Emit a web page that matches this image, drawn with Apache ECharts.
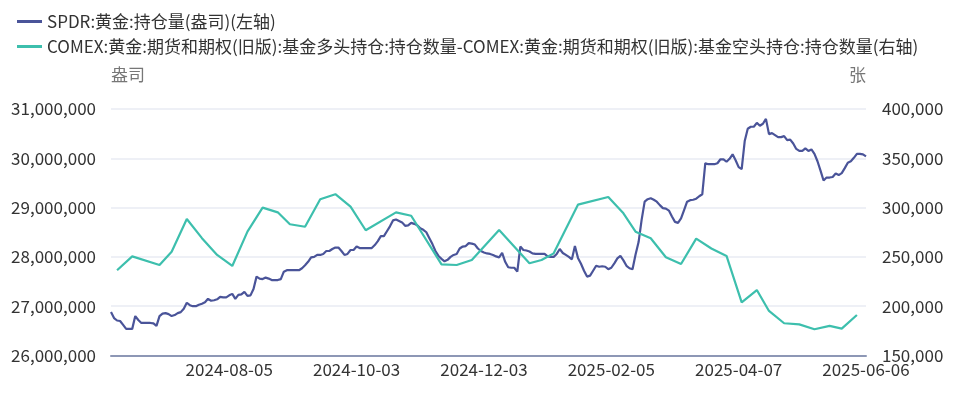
<!DOCTYPE html>
<html>
<head>
<meta charset="utf-8">
<script src="https://cdn.jsdelivr.net/npm/echarts@6/dist/echarts.min.js"></script>
<style>
  html, body { margin: 0; padding: 0; background: #fff; }
  #chart { width: 966px; height: 397px; }
</style>
</head>
<body>
<div id="chart"></div>
<script>
// 交易日 (按月列出日期)
const tradingDays = [
  ['2024-06', [7, 10, 11, 12, 13, 14, 17, 18, 20, 21, 24, 25, 26, 27, 28]],
  ['2024-07', [1, 2, 3, 5, 8, 9, 10, 11, 12, 15, 16, 17, 18, 19, 22, 23, 24, 25, 26, 29, 30, 31]],
  ['2024-08', [1, 2, 5, 6, 7, 8, 9, 12, 13, 14, 15, 16, 19, 20, 21, 22, 23, 26, 27, 28, 29, 30]],
  ['2024-09', [3, 4, 5, 6, 9, 10, 11, 12, 13, 16, 17, 18, 19, 20, 23, 24, 25, 26, 27, 30]],
  ['2024-10', [1, 2, 3, 4, 7, 8, 9, 10, 11, 14, 15, 16, 17, 18, 21, 22, 23, 24, 25, 28, 29, 30, 31]],
  ['2024-11', [1, 4, 5, 6, 7, 8, 11, 12, 13, 14, 15, 18, 19, 20, 21, 22, 25, 26, 27, 29]],
  ['2024-12', [2, 3, 4, 5, 6, 9, 10, 11, 12, 13, 16, 17, 18, 19, 20, 23, 24, 26, 27, 30, 31]],
  ['2025-01', [2, 3, 6, 7, 8, 10, 13, 14, 15, 16, 17, 21, 22, 23, 24, 27, 28, 29, 30, 31]],
  ['2025-02', [3, 4, 5, 6, 7, 10, 11, 12, 13, 14, 18, 19, 20, 21, 24, 25, 26, 27, 28]],
  ['2025-03', [3, 4, 5, 6, 7, 10, 11, 12, 13, 14, 17, 18, 19, 20, 21, 24, 25, 26, 27, 28, 31]],
  ['2025-04', [1, 2, 3, 4, 7, 8, 9, 10, 11, 14, 15, 16, 17, 21, 22, 23, 24, 25, 28, 29, 30]],
  ['2025-05', [1, 2, 5, 6, 7, 8, 9, 12, 13, 14, 15, 16, 19, 20, 21, 22, 23, 27, 28, 29, 30]],
  ['2025-06', [2, 3, 4, 5, 6]]
];

// SPDR:黄金:持仓量(盎司)
const spdrHoldings = [
  26880000, 26760000, 26710000, 26700000, 26620000, 26540000, 26540000, 26540000, 26800000, 26720000,
  26660000, 26660000, 26660000, 26660000, 26650000, 26600000, 26800000, 26850000, 26860000, 26840000,
  26800000, 26820000, 26860000, 26880000, 26950000, 27070000, 27020000, 27000000, 27000000, 27030000,
  27050000, 27080000, 27150000, 27110000, 27120000, 27140000, 27190000, 27180000, 27180000, 27220000,
  27250000, 27150000, 27230000, 27240000, 27290000, 27210000, 27220000, 27350000, 27600000, 27560000,
  27550000, 27580000, 27560000, 27530000, 27530000, 27530000, 27550000, 27700000, 27730000, 27730000,
  27730000, 27730000, 27730000, 27770000, 27830000, 27900000, 27990000, 28000000, 28040000, 28040000,
  28060000, 28120000, 28120000, 28160000, 28190000, 28190000, 28120000, 28040000, 28060000, 28140000,
  28140000, 28210000, 28180000, 28180000, 28180000, 28180000, 28180000, 28240000, 28320000, 28420000,
  28420000, 28520000, 28620000, 28740000, 28760000, 28730000, 28700000, 28630000, 28640000, 28690000,
  28670000, 28640000, 28580000, 28550000, 28500000, 28380000, 28260000, 28120000, 28020000, 27960000,
  27910000, 27940000, 28000000, 28040000, 28060000, 28170000, 28210000, 28220000, 28280000, 28270000,
  28250000, 28170000, 28120000, 28090000, 28070000, 28060000, 28040000, 28010000, 27990000, 28080000,
  27900000, 27790000, 27780000, 27780000, 27700000, 28210000, 28140000, 28130000, 28110000, 28070000,
  28060000, 28060000, 28060000, 28060000, 28010000, 28000000, 28000000, 28060000, 28160000, 28080000,
  28040000, 28000000, 27950000, 28220000, 27980000, 27860000, 27720000, 27600000, 27620000, 27720000,
  27820000, 27800000, 27810000, 27800000, 27750000, 27780000, 27870000, 27970000, 28020000, 27930000,
  27820000, 27770000, 27750000, 28050000, 28300000, 28750000, 29120000, 29170000, 29190000, 29160000,
  29120000, 29050000, 28990000, 28980000, 28940000, 28820000, 28710000, 28690000, 28780000, 28950000,
  29120000, 29150000, 29160000, 29180000, 29230000, 29270000, 29900000, 29880000, 29880000, 29880000,
  29900000, 29980000, 29980000, 29930000, 29990000, 30080000, 29960000, 29820000, 29780000, 30350000,
  30600000, 30640000, 30640000, 30720000, 30660000, 30700000, 30800000, 30490000, 30510000, 30470000,
  30430000, 30430000, 30450000, 30370000, 30380000, 30300000, 30190000, 30150000, 30150000, 30200000,
  30150000, 30180000, 30090000, 29940000, 29750000, 29550000, 29610000, 29610000, 29620000, 29690000,
  29660000, 29700000, 29800000, 29910000, 29940000, 30010000, 30090000, 30090000, 30080000, 30040000
];

// COMEX 基金多头持仓 - 基金空头持仓 (张), 周度
const comexDates = [
  '2024-06-11', '2024-06-18', '2024-07-02', '2024-07-09', '2024-07-16', '2024-07-23', '2024-07-30',
  '2024-08-06', '2024-08-13', '2024-08-20', '2024-08-27', '2024-09-03', '2024-09-10', '2024-09-17',
  '2024-09-24', '2024-10-01', '2024-10-08', '2024-10-22', '2024-10-29', '2024-11-12', '2024-11-19',
  '2024-11-26', '2024-12-10', '2024-12-24', '2024-12-31', '2025-01-07', '2025-01-21', '2025-02-04',
  '2025-02-11', '2025-02-18', '2025-02-25', '2025-03-04', '2025-03-11', '2025-03-18', '2025-03-25',
  '2025-04-01', '2025-04-08', '2025-04-15', '2025-04-22', '2025-04-29', '2025-05-06', '2025-05-13',
  '2025-05-20', '2025-05-27', '2025-06-03'
];
const comexNet = [
  236500, 250500, 241800, 255300, 288400, 269000, 252000,
  240800, 275600, 300000, 295200, 283100, 280600, 308400,
  313600, 300900, 277000, 295200, 291700, 242500, 241800,
  246900, 277300, 243500, 246900, 253600, 303000, 310800,
  294200, 275600, 268900, 249600, 242800, 268500, 258500,
  251000, 203800, 216400, 195200, 182700, 181600, 176600,
  180000, 177300, 191100
];

const seriesNames = [
  'SPDR:黄金:持仓量(盎司)(左轴)',
  'COMEX:黄金:期货和期权(旧版):基金多头持仓:持仓数量-COMEX:黄金:期货和期权(旧版):基金空头持仓:持仓数量(右轴)'
];

const categories = [];
tradingDays.forEach(function (m) {
  m[1].forEach(function (d) {
    categories.push(m[0] + '-' + (d < 10 ? '0' + d : d));
  });
});

const comexMap = {};
comexDates.forEach(function (d, i) { comexMap[d] = comexNet[i]; });
const comexSeries = categories.map(function (d) {
  return comexMap[d] === undefined ? null : comexMap[d];
});

const labelStep = 42;
const lastIndex = categories.length - 1;
const fontFamily = '"Noto Sans CJK SC", "Noto Sans", sans-serif';
const fmt = function (v) { return v.toLocaleString('en-US'); };

const chart = echarts.init(document.getElementById('chart'));
chart.setOption({
  animation: false,
  textStyle: { fontFamily: fontFamily },
  color: ['#4a5499', '#3dbfad'],
  legend: {
    orient: 'vertical',
    left: 12,
    top: 8,
    itemWidth: 25,
    itemHeight: 3,
    itemGap: 8,
    icon: 'rect',
    textStyle: { fontSize: 17, color: '#333', fontFamily: fontFamily },
    data: seriesNames
  },
  grid: { left: 111, right: 100, top: 109, bottom: 41.5 },
  xAxis: {
    type: 'category',
    data: categories,
    boundaryGap: false,
    axisLine: { lineStyle: { color: '#8d97b5', width: 2 } },
    axisTick: { show: false },
    axisLabel: {
      color: '#333',
      fontSize: 17,
      margin: 6,
      interval: function (index) { return (lastIndex - index) % labelStep === 0; }
    }
  },
  yAxis: [
    {
      type: 'value',
      name: '盎司',
      nameGap: 26,
      nameTextStyle: { color: '#777', fontSize: 17, align: 'left' },
      min: 26000000,
      max: 31000000,
      interval: 1000000,
      axisLine: { show: false },
      axisTick: { show: false },
      axisLabel: { color: '#333', fontSize: 17, margin: 15, formatter: fmt },
      splitLine: { lineStyle: { color: '#eef0f6', width: 2 } }
    },
    {
      type: 'value',
      name: '张',
      nameGap: 26,
      nameTextStyle: { color: '#777', fontSize: 17, align: 'right' },
      min: 150000,
      max: 400000,
      interval: 50000,
      axisLine: { show: false },
      axisTick: { show: false },
      axisLabel: { color: '#333', fontSize: 17, margin: 16, formatter: fmt },
      splitLine: { show: false }
    }
  ],
  series: [
    {
      name: seriesNames[0],
      type: 'line',
      yAxisIndex: 0,
      data: spdrHoldings,
      showSymbol: false,
      lineStyle: { width: 2.2 }
    },
    {
      name: seriesNames[1],
      type: 'line',
      yAxisIndex: 1,
      data: comexSeries,
      connectNulls: true,
      showSymbol: false,
      lineStyle: { width: 2.2 }
    }
  ]
});
</script>
</body>
</html>
